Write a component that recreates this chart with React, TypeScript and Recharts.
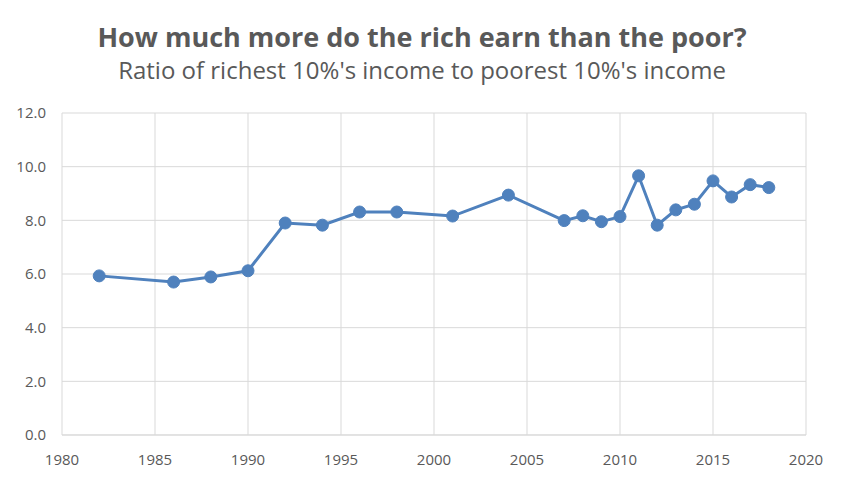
import { LineChart, Line, XAxis, YAxis, CartesianGrid } from 'recharts';

const years = [1982, 1986, 1988, 1990, 1992, 1994, 1996, 1998, 2001, 2004, 2007, 2008, 2009, 2010, 2011, 2012, 2013, 2014, 2015, 2016, 2017, 2018];
const ratios = [5.93, 5.7, 5.89, 6.12, 7.9, 7.82, 8.31, 8.31, 8.16, 8.94, 7.99, 8.17, 7.95, 8.14, 9.66, 7.82, 8.39, 8.6, 9.47, 8.87, 9.33, 9.22];
const xTicks = [1980, 1985, 1990, 1995, 2000, 2005, 2010, 2015, 2020];
const yTicks = [0, 2, 4, 6, 8, 10, 12];

const data = years.map((year, i) => ({ year, ratio: ratios[i] }));

const font = '"Open Sans", "Noto Sans", sans-serif';
const tickStyle = { fontSize: 15, fill: '#595959', fontFamily: font };

export default function App() {
  return (
    <div
      style={{
        position: 'relative',
        width: 844,
        height: 481,
        margin: -8,
        background: '#fff',
        boxSizing: 'border-box',
        border: '1px solid #d9d9d9',
        fontFamily: font,
      }}
    >
      <div
        style={{
          position: 'absolute',
          top: 22,
          left: 0,
          width: 842,
          textAlign: 'center',
          fontSize: 27,
          lineHeight: 1,
          fontWeight: 'bold',
          color: '#595959',
        }}
      >
        How much more do the rich earn than the poor?
      </div>
      <div
        style={{
          position: 'absolute',
          top: 57,
          left: 0,
          width: 842,
          textAlign: 'center',
          fontSize: 24,
          lineHeight: 1,
          color: '#595959',
        }}
      >
        Ratio of richest 10%'s income to poorest 10%'s income
      </div>
      <LineChart
        width={842}
        height={479}
        data={data}
        margin={{ top: 112, right: 37, left: 0, bottom: 0 }}
      >
        <CartesianGrid stroke="#d9d9d9" vertical={true} horizontal={true} />
        <XAxis
          dataKey="year"
          type="number"
          domain={[1980, 2020]}
          ticks={xTicks}
          tick={tickStyle}
          tickLine={false}
          tickSize={0}
          tickMargin={19}
          height={45}
          axisLine={{ stroke: '#d9d9d9' }}
          interval={0}
        />
        <YAxis
          width={61}
          domain={[0, 12]}
          ticks={yTicks}
          tick={tickStyle}
          tickLine={false}
          tickSize={0}
          tickMargin={16}
          axisLine={false}
          tickFormatter={(v: number) => v.toFixed(1)}
          interval={0}
        />
        <Line
          type="linear"
          dataKey="ratio"
          stroke="#4F81BD"
          strokeWidth={3}
          dot={{ r: 6, fill: '#4F81BD', stroke: '#4F81BD', strokeWidth: 1 }}
          activeDot={false}
          isAnimationActive={false}
        />
      </LineChart>
    </div>
  );
}
